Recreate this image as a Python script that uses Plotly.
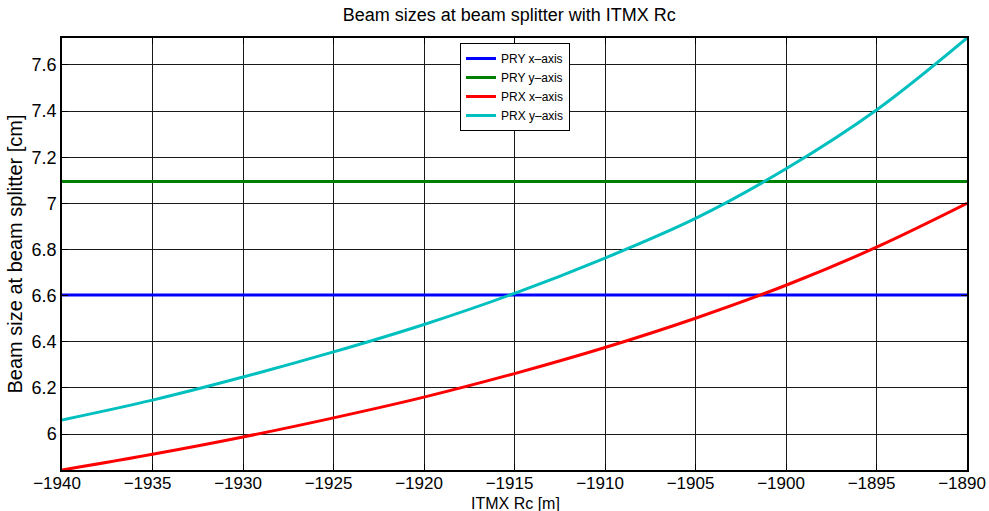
import plotly.graph_objects as go

rc = [-1940, -1935, -1930, -1925, -1920, -1915, -1910, -1905, -1900, -1895, -1890]
pry_x = [6.603] * len(rc)
pry_y = [7.095] * len(rc)
prx_x = [5.844, 5.912, 5.987, 6.070, 6.160, 6.262, 6.375, 6.502, 6.645, 6.810, 7.000]
prx_y = [6.061, 6.147, 6.247, 6.356, 6.475, 6.610, 6.763, 6.935, 7.150, 7.405, 7.717]
xticks = list(range(-1940, -1889, 5))
yticks = [6, 6.2, 6.4, 6.6, 6.8, 7, 7.2, 7.4, 7.6]

names = ["PRY x\u2013axis", "PRY y\u2013axis", "PRX x\u2013axis", "PRX y\u2013axis"]
colors = ["#0000ff", "#008000", "#ff0000", "#00bfbf"]
series = [pry_x, pry_y, prx_x, prx_y]

fig = go.Figure()
for n, c, s in zip(names, colors, series):
    fig.add_trace(go.Scatter(x=rc, y=s, mode="lines", name=n,
                             line=dict(color=c, width=3, shape="spline")))

font = "Liberation Sans, Arial, Helvetica, sans-serif"
fig.update_layout(
    width=989, height=511,
    margin=dict(l=62, r=22, t=38, b=41),
    paper_bgcolor="white", plot_bgcolor="white",
    font=dict(family=font, color="black", size=18),
    title=dict(text="Beam sizes at beam splitter with ITMX Rc", x=0.515, xanchor="center",
               y=1 - 15 / 511, yanchor="middle", font=dict(size=18)),
    showlegend=True,
    legend=dict(x=(460 - 62) / 905, xanchor="left", y=1 - (43 - 38) / 432, yanchor="top",
                bgcolor="white", bordercolor="black", borderwidth=1,
                font=dict(size=12), tracegroupgap=0, itemwidth=30),
    xaxis=dict(range=[-1940, -1890], tickvals=xticks,
               ticktext=["\u2212" + str(-v) for v in xticks],
               showgrid=True, gridcolor="#1a1a1a", gridwidth=1, automargin=False,
               showline=True, linecolor="black", linewidth=1.5, mirror="ticks",
               ticks="inside", ticklen=6, tickcolor="black", zeroline=False,
               tickfont=dict(size=17), ticklabeloverflow="allow", ticklabelshift=-5,
               ticklabelstandoff=-3),
    yaxis=dict(range=[5.844, 7.717], tickvals=yticks,
               ticktext=[("%g" % v) for v in yticks],
               showgrid=True, gridcolor="#1a1a1a", gridwidth=1, automargin=False,
               showline=True, linecolor="black", linewidth=1.5, mirror="ticks",
               ticks="inside", ticklen=6, tickcolor="black", zeroline=False,
               tickfont=dict(size=18),
               title=dict(text="Beam size at beam splitter [cm]", standoff=4, font=dict(size=20))),
    annotations=[dict(text="ITMX Rc [m]", xref="paper", yref="paper",
                      x=(515 - 62) / 905, y=-(503 - 470) / 432, xanchor="center", yanchor="middle",
                      showarrow=False, font=dict(size=16))],
)
fig.write_html("out.html")
